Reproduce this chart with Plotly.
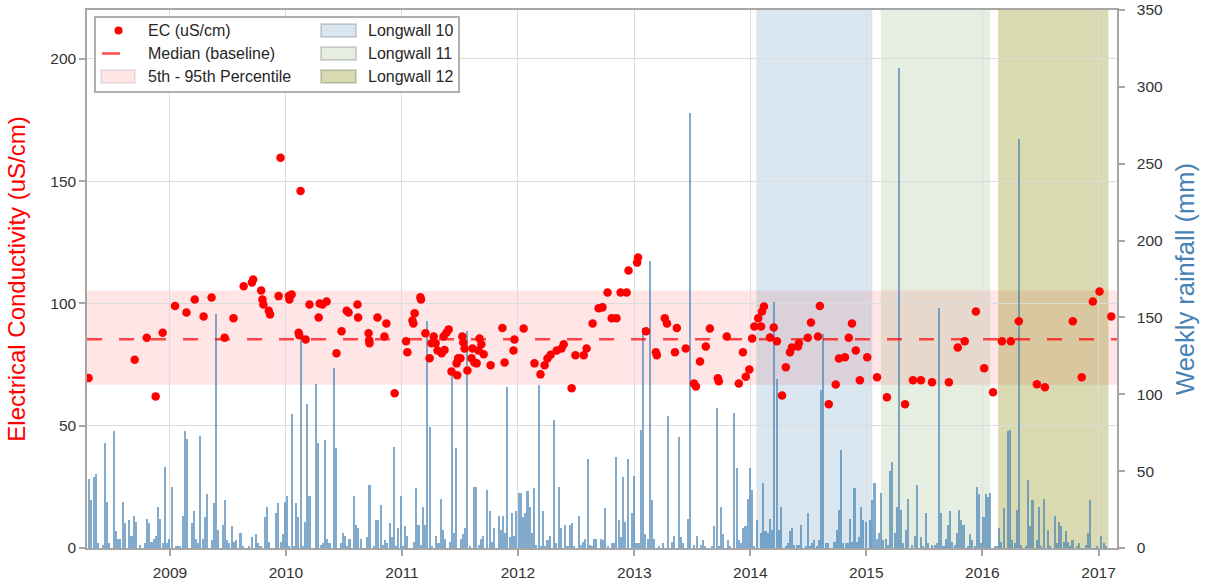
import pandas as pd
import plotly.graph_objects as go

# --- EC samples (uS/cm) ---
ec_dates = [
    "2008-04-20", "2008-09-12", "2008-10-20", "2008-11-17", "2008-12-09",
    "2009-01-17", "2009-02-22", "2009-03-20", "2009-04-17", "2009-05-12", "2009-06-22", "2009-07-20",
    "2009-08-21", "2009-09-16", "2009-09-20", "2009-10-15", "2009-10-19", "2009-10-22", "2009-11-08",
    "2009-11-12", "2009-12-09", "2009-12-15",
    "2010-01-10", "2010-01-12", "2010-01-19", "2010-02-10", "2010-02-12", "2010-02-16", "2010-03-04",
    "2010-03-16", "2010-04-14", "2010-04-17", "2010-04-26", "2010-05-09", "2010-06-09", "2010-06-25",
    "2010-07-11", "2010-07-17", "2010-08-14", "2010-08-16", "2010-09-18", "2010-09-20", "2010-09-21",
    "2010-10-16", "2010-11-07", "2010-11-13", "2010-12-09",
    "2011-01-14", "2011-01-18", "2011-02-03", "2011-02-06", "2011-02-10", "2011-02-28", "2011-03-02",
    "2011-03-16", "2011-03-29", "2011-04-04", "2011-04-11", "2011-04-17", "2011-04-23", "2011-05-06",
    "2011-05-12", "2011-05-15", "2011-05-21", "2011-05-28", "2011-06-06", "2011-06-22", "2011-06-24",
    "2011-06-27", "2011-07-04", "2011-07-10", "2011-07-13", "2011-07-17", "2011-07-26", "2011-08-08",
    "2011-08-11", "2011-08-17", "2011-08-24", "2011-08-30", "2011-09-02", "2011-09-08", "2011-09-15",
    "2011-10-07", "2011-11-13", "2011-11-20", "2011-12-18", "2011-12-21",
    "2012-01-19", "2012-02-22", "2012-03-12", "2012-03-25", "2012-04-03", "2012-04-13", "2012-05-02",
    "2012-05-17", "2012-05-24", "2012-06-18", "2012-06-30", "2012-07-26", "2012-08-04", "2012-08-23",
    "2012-09-11", "2012-09-23", "2012-10-09", "2012-10-22", "2012-11-06", "2012-11-19", "2012-12-08",
    "2012-12-14",
    "2013-01-10", "2013-01-13", "2013-02-07", "2013-03-10", "2013-03-13", "2013-04-07", "2013-04-14",
    "2013-05-09", "2013-05-15", "2013-06-12", "2013-07-08", "2013-07-14", "2013-07-27", "2013-08-14",
    "2013-08-27", "2013-09-21", "2013-09-24", "2013-10-19", "2013-11-26", "2013-12-09", "2013-12-18",
    "2013-12-29",
    "2014-01-07", "2014-01-14", "2014-01-26", "2014-02-04", "2014-02-07", "2014-02-13", "2014-03-04",
    "2014-03-16", "2014-03-26", "2014-04-11", "2014-04-23", "2014-05-06", "2014-05-12", "2014-05-31",
    "2014-06-03", "2014-07-01", "2014-07-11", "2014-08-02", "2014-08-08", "2014-09-05", "2014-09-27",
    "2014-10-07", "2014-10-26", "2014-11-07", "2014-11-17", "2014-11-29", "2014-12-12",
    "2015-01-04", "2015-02-04", "2015-03-07", "2015-05-03", "2015-05-28", "2015-06-22", "2015-07-27",
    "2015-09-18", "2015-10-16", "2015-11-07", "2015-12-12",
    "2016-01-07", "2016-02-04", "2016-03-03", "2016-03-31", "2016-04-25", "2016-06-21", "2016-07-16",
    "2016-10-12", "2016-11-09", "2016-12-14",
    "2017-01-04", "2017-02-10",
]
ec_values = [
    69.5, 77, 86, 62, 88,
    99, 96.3, 101.6, 94.7, 102.4, 86, 94,
    107, 108.6, 109.8, 105.3, 101.6, 99.6, 97,
    95.5, 103, 159.6,
    103, 101.6, 103.7, 88, 87, 146, 85.3,
    99.6, 94.3, 100, 99.6, 100.8, 79.6, 88.6,
    97, 96.3, 99.6, 94.3, 87.8, 85, 83.7,
    94.3, 86.5, 91.8, 63.3,
    84.5, 80, 93, 91.8, 96, 102.5, 101.6,
    87.8, 77.6, 83.7, 86.5, 83.7, 80.8, 79.6,
    86.5, 81, 88, 89.4, 72.2, 75.5, 70.6,
    77.6, 77.6, 86.5, 84, 81.6, 72.6, 77.6,
    81.6, 75.9, 75.5, 80.8, 85.7, 83.3, 79.2,
    74.7, 90, 75.9, 80.8, 85.3,
    89.8, 75.5, 71, 74.7, 77.5, 79, 80.8,
    81.6, 83.3, 65.3, 78.8, 78.8, 81.6, 91.8,
    98, 98.4, 104.5, 94, 94, 104.5, 104.5,
    113.5,
    116.7, 118.8, 88.6, 80, 78.8, 94, 91.8,
    80, 90, 81.6, 67.3, 66, 76.3, 82.4,
    89.8, 69.4, 68.2, 86.5, 67.3, 80, 70,
    73,
    85.7, 90.6, 94, 90.6, 96.7, 98.8, 86.1,
    90.2, 84.5, 62.4, 73.9, 80, 82, 82.4,
    83.7, 86, 92.2, 86.5, 99, 58.8, 66.9,
    77.5, 78, 86, 91.8, 80.8, 68.6,
    78, 69.8, 61.6, 58.8, 68.6, 68.6, 67.8,
    67.8, 82, 84.5, 96.7,
    73.5, 63.7, 84.5, 84.5, 92.7, 67, 65.7,
    92.7, 69.8, 100.8,
    104.9, 94.7,
]

# baseline statistics
ec_median = 85.4
ec_p05 = 66.8
ec_p95 = 105.3

# --- weekly rainfall (mm), first week and values ---
rain_start = "2008-04-22"
rain_mm = [
    # 2008-04 .. 2010-07
    45, 31, 46, 48, 3, 0, 2, 68, 30, 3, 0, 76, 11, 6, 6, 30, 16, 0, 18, 8,
    21, 17, 0, 2, 0, 3, 19, 16, 4, 6, 8, 27, 19, 3, 53, 3, 6, 40, 0, 1,
    1, 1, 21, 76, 71, 0, 16, 24, 6, 3, 73, 6, 20, 35, 0, 5, 29, 152, 12, 0,
    15, 31, 5, 3, 14, 4, 5, 0, 10, 1, 0, 0, 1, 7, 0, 9, 3, 1, 0, 20,
    27, 4, 0, 0, 23, 29, 4, 9, 30, 34, 1, 87, 1, 29, 20, 141, 1, 17, 94, 34,
    0, 0, 107, 68, 2, 3, 70, 6, 3, 0, 117, 65, 0, 3, 10, 8,
    # 2010-07 .. 2012-09
    1, 6, 0, 34, 15, 13, 6, 0, 0, 7, 41, 0, 1, 18, 18, 28, 2, 5, 3, 16,
    7, 66, 1, 13, 34, 1, 14, 8, 0, 0, 4, 39, 15, 2, 27, 15, 148, 79, 1, 0,
    8, 3, 32, 12, 6, 0, 4, 114, 10, 65, 0, 6, 9, 13, 141, 1, 0, 40, 40, 2,
    6, 8, 0, 38, 24, 4, 13, 0, 21, 12, 21, 10, 105, 7, 23, 8, 24, 36, 36, 20,
    23, 37, 27, 10, 39, 2, 106, 1, 24, 1, 5, 8, 0, 83, 3, 40, 13, 0, 15, 1,
    15, 16, 1, 0, 21, 2, 4, 6, 58, 2, 1, 6, 6, 0, 6, 5,
    # 2012-09 .. 2014-11
    26, 1, 0, 3, 3, 59, 18, 7, 46, 17, 58, 0, 23, 47, 3, 3, 77, 143, 9, 6,
    187, 31, 6, 0, 1, 0, 3, 0, 86, 0, 4, 8, 0, 72, 7, 3, 0, 19, 283, 0,
    2, 8, 0, 2, 5, 1, 0, 0, 1, 14, 91, 1, 27, 9, 0, 5, 1, 0, 88, 52,
    5, 3, 13, 14, 32, 52, 38, 1, 18, 0, 10, 42, 11, 10, 19, 12, 160, 110, 12, 27,
    0, 1, 3, 11, 13, 2, 2, 2, 15, 0, 1, 23, 1, 3, 5, 1, 5, 103, 139, 3,
    3, 0, 0, 4, 12, 25, 64, 3, 3, 3, 19, 4, 39, 4, 7,
    # 2014-11 .. 2017-01
    27, 18, 17, 0, 18, 31, 42, 6, 10, 36, 5, 6, 2, 50, 56, 10, 27, 312, 25, 3,
    12, 32, 0, 2, 8, 41, 0, 7, 1, 23, 3, 0, 2, 2, 3, 156, 23, 1, 6, 15,
    24, 4, 2, 10, 25, 18, 15, 0, 1, 9, 5, 1, 40, 35, 3, 20, 35, 33, 36, 0,
    1, 1, 13, 4, 26, 0, 76, 77, 5, 3, 25, 266, 2, 0, 1, 44, 14, 31, 0, 5,
    27, 1, 32, 0, 12, 1, 0, 21, 3, 17, 14, 4, 11, 4, 1, 5, 0, 1, 3, 0,
    0, 2, 10, 31, 0, 0, 1, 0, 8, 3, 1,
]

# --- longwall extraction periods ---
longwall_names = ["Longwall 10", "Longwall 11", "Longwall 12"]
longwall_start = ["2014-01-20", "2015-02-16", "2016-02-20"]
longwall_end = ["2015-01-20", "2016-01-26", "2017-02-01"]
longwall_colors = ["rgba(70,130,180,0.2)", "rgba(130,165,105,0.2)", "rgba(128,128,0,0.3)"]

ec_ticks = [0, 50, 100, 150, 200]
rain_ticks = [0, 50, 100, 150, 200, 250, 300, 350]

rain_dates = pd.date_range(rain_start, periods=len(rain_mm), freq="7D")

W, H = 1205, 587
L, R, T, B = 87, 88, 10, 39
AXIS = "#a6a6a6"
TXT = "#333333"
FONT = "Liberation Sans, Arial, sans-serif"


def px(x):
    return (x - L) / (W - L - R)


def py(y):
    return (H - B - y) / (H - T - B)


fig = go.Figure()

fig.add_trace(go.Bar(
    x=rain_dates,
    y=rain_mm,
    width=6.5 * 86400000,
    marker=dict(color="rgba(70,130,180,0.68)", line=dict(width=0)),
    yaxis="y",
    showlegend=False,
    name="Weekly rainfall",
))

fig.add_trace(go.Scatter(
    x=ec_dates,
    y=ec_values,
    mode="markers",
    marker=dict(color="#ff0000", size=8.5),
    yaxis="y2",
    showlegend=False,
    name="EC (uS/cm)",
))

shapes = []
# 5th - 95th percentile band and median
shapes.append(dict(type="rect", xref="x domain", yref="y2", x0=0, x1=1, y0=ec_p05, y1=ec_p95,
                   fillcolor="rgba(255,0,0,0.1)", line=dict(width=0), layer="below"))
for name, s, e, c in zip(longwall_names, longwall_start, longwall_end, longwall_colors):
    shapes.append(dict(type="rect", xref="x", yref="y domain", x0=s, x1=e, y0=0, y1=1,
                       fillcolor=c, line=dict(width=0), layer="below"))
shapes.append(dict(type="line", xref="x domain", yref="y2", x0=0, x1=1, y0=ec_median, y1=ec_median,
                   line=dict(color="rgba(255,0,0,0.7)", width=2.5, dash="15px,17px"), layer="above"))

# legend box (drawn by hand to get the two-column look)
shapes.append(dict(type="rect", xref="paper", yref="paper", x0=px(95), x1=px(459), y0=py(92), y1=py(17),
                   fillcolor="white", line=dict(color="#b0b0b0", width=2), layer="above"))
rows = [30.5, 53.5, 76.5]
shapes.append(dict(type="circle", xref="paper", yref="paper", x0=px(114.5), x1=px(122.5),
                   y0=py(rows[0] + 4), y1=py(rows[0] - 4), fillcolor="#ff0000", line=dict(width=0), layer="above"))
shapes.append(dict(type="line", xref="paper", yref="paper", x0=px(102), x1=px(120), y0=py(rows[1]), y1=py(rows[1]),
                   line=dict(color="rgba(255,0,0,0.7)", width=2.5), layer="above"))
shapes.append(dict(type="rect", xref="paper", yref="paper", x0=px(101), x1=px(135), y0=py(rows[2] + 6.5),
                   y1=py(rows[2] - 6.5), fillcolor="rgba(255,0,0,0.1)",
                   line=dict(color="rgba(0,0,0,0.08)", width=2), layer="above"))
for i, c in enumerate(longwall_colors):
    shapes.append(dict(type="rect", xref="paper", yref="paper", x0=px(321), x1=px(356),
                       y0=py(rows[i] + 6.5), y1=py(rows[i] - 6.5), fillcolor=c,
                       line=dict(color="rgba(0,0,0,0.15)", width=2), layer="above"))

legend_left = ["EC (uS/cm)", "Median (baseline)", "5th - 95th Percentile"]
annotations = []
for i, t in enumerate(legend_left):
    annotations.append(dict(text=t, xref="paper", yref="paper", x=px(146), y=py(rows[i]),
                            xanchor="left", yanchor="middle", showarrow=False,
                            font=dict(size=16, color="#262626", family=FONT)))
for i, t in enumerate(longwall_names):
    annotations.append(dict(text=t, xref="paper", yref="paper", x=px(366), y=py(rows[i]),
                            xanchor="left", yanchor="middle", showarrow=False,
                            font=dict(size=16, color="#262626", family=FONT)))

fig.update_layout(
    width=W, height=H,
    margin=dict(l=L, r=R, t=T, b=B, autoexpand=False),
    paper_bgcolor="white",
    plot_bgcolor="white",
    font=dict(family=FONT, color=TXT, size=15.5),
    bargap=0,
    showlegend=False,
    shapes=shapes,
    annotations=annotations,
    xaxis=dict(
        type="date",
        range=["2008-04-15", "2017-02-28"],
        tick0="2009-01-01", dtick="M12", tickformat="%Y",
        showgrid=True, gridcolor="#dcdcdc", gridwidth=1.2,
        showline=True, linecolor=AXIS, linewidth=1.5, mirror=True,
        ticks="outside", ticklen=6, tickcolor=AXIS, tickwidth=1.5,
        ticklabelstandoff=4,
        tickfont=dict(size=15.5, color=TXT),
        zeroline=False, automargin=False,
    ),
    yaxis=dict(
        side="right",
        range=[0, 350],
        tickvals=rain_ticks,
        showgrid=False, zeroline=False,
        showline=True, linecolor=AXIS, linewidth=1.5,
        ticks="outside", ticklen=6, tickcolor=AXIS, tickwidth=1.5,
        ticklabelstandoff=9,
        tickfont=dict(size=15.5, color=TXT),
        automargin=False,
        title=dict(text="Weekly rainfall (mm)", font=dict(size=25.5, color="#4682b4"), standoff=14),
    ),
    yaxis2=dict(
        overlaying="y",
        side="left",
        range=[0, 220],
        tickvals=ec_ticks,
        showgrid=True, gridcolor="#dcdcdc", gridwidth=1.2, zeroline=False,
        showline=True, linecolor=AXIS, linewidth=1.5,
        ticks="outside", ticklen=6, tickcolor=AXIS, tickwidth=1.5,
        tickfont=dict(size=15.5, color=TXT),
        automargin=False,
        title=dict(text="Electrical Conductivity (uS/cm)", font=dict(size=24, color="#ff0000"), standoff=18),
    ),
)

fig.write_html("out.html", config={"displayModeBar": False},
               post_script="document.body.style.margin='0';")
